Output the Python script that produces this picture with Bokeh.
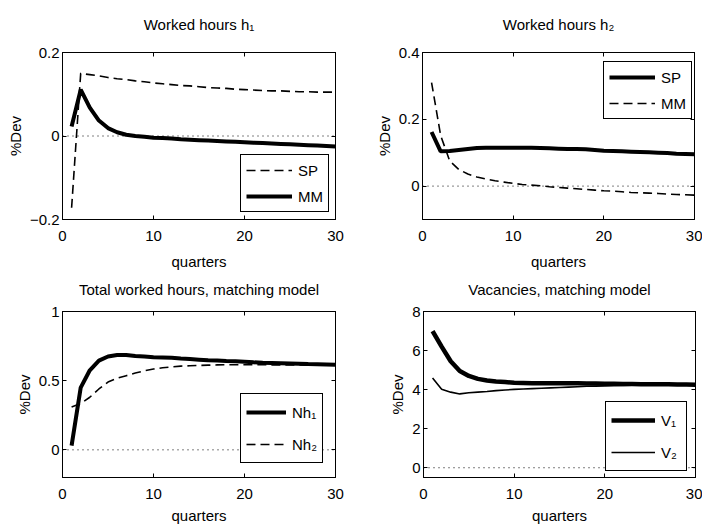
from bokeh.plotting import figure
from bokeh.layouts import column, row
from bokeh.models import Range1d, FixedTicker, LinearAxis, Span, Legend, LegendItem
from bokeh.embed import file_html
from bokeh.resources import INLINE

FONT = "Liberation Sans"
FS = "15px"

quarters = list(range(1, 31))

# Panel 1: Worked hours h1
h1_sp = [-0.172, 0.150, 0.147, 0.144, 0.140, 0.137, 0.135, 0.132, 0.130, 0.127,
         0.125, 0.123, 0.121, 0.120, 0.118, 0.116, 0.115, 0.114, 0.112, 0.111,
         0.110, 0.109, 0.108, 0.108, 0.107, 0.106, 0.106, 0.105, 0.105, 0.105]
h1_mm = [0.023, 0.111, 0.068, 0.037, 0.019, 0.009, 0.003, 0.000, -0.002, -0.004,
         -0.005, -0.006, -0.008, -0.009, -0.010, -0.011, -0.012, -0.013, -0.014, -0.015,
         -0.016, -0.017, -0.018, -0.019, -0.020, -0.021, -0.022, -0.023, -0.024, -0.025]

# Panel 2: Worked hours h2
h2_sp = [0.162, 0.104, 0.105, 0.108, 0.111, 0.114, 0.115, 0.115, 0.115, 0.115,
         0.115, 0.115, 0.114, 0.113, 0.112, 0.111, 0.111, 0.110, 0.108, 0.106,
         0.105, 0.104, 0.103, 0.102, 0.101, 0.100, 0.099, 0.097, 0.096, 0.095]
h2_mm = [0.310, 0.152, 0.075, 0.050, 0.036, 0.027, 0.021, 0.016, 0.012, 0.008,
         0.005, 0.003, 0.001, -0.002, -0.004, -0.006, -0.008, -0.010, -0.012, -0.014,
         -0.015, -0.017, -0.019, -0.020, -0.021, -0.022, -0.024, -0.025, -0.026, -0.027]

# Panel 3: Total worked hours, matching model
nh1 = [0.03, 0.45, 0.575, 0.645, 0.675, 0.685, 0.685, 0.678, 0.675, 0.670,
       0.668, 0.665, 0.660, 0.656, 0.652, 0.648, 0.645, 0.642, 0.640, 0.637,
       0.633, 0.630, 0.628, 0.626, 0.624, 0.622, 0.620, 0.619, 0.617, 0.615]
nh2 = [0.31, 0.335, 0.38, 0.44, 0.49, 0.517, 0.536, 0.555, 0.571, 0.584,
       0.593, 0.600, 0.605, 0.608, 0.610, 0.612, 0.614, 0.615, 0.615, 0.615,
       0.615, 0.615, 0.614, 0.614, 0.613, 0.613, 0.612, 0.612, 0.611, 0.611]

# Panel 4: Vacancies, matching model
v1 = [7.0, 6.2, 5.45, 4.95, 4.7, 4.55, 4.47, 4.42, 4.39, 4.35,
      4.34, 4.33, 4.33, 4.33, 4.33, 4.32, 4.32, 4.31, 4.31, 4.30,
      4.30, 4.29, 4.29, 4.28, 4.28, 4.27, 4.27, 4.26, 4.26, 4.25]
v2 = [4.6, 4.02, 3.87, 3.78, 3.84, 3.87, 3.90, 3.95, 3.98, 4.01,
      4.03, 4.05, 4.07, 4.09, 4.11, 4.13, 4.15, 4.17, 4.18, 4.19,
      4.20, 4.21, 4.22, 4.22, 4.23, 4.23, 4.24, 4.24, 4.25, 4.25]

titles = ["Worked hours h\u2081", "Worked hours h\u2082",
          "Total worked hours, matching model", "Vacancies, matching model"]
x_ticks = [0, 10, 20, 30]
x_tick_labels = ["0", "10", "20", "30"]
y_ticks_1 = [-0.2, 0, 0.2]
y_tick_labels_1 = ["\u22120.2", "0", "0.2"]
y_ticks_2 = [0, 0.2, 0.4]
y_tick_labels_2 = ["0", "0.2", "0.4"]
y_ticks_3 = [0, 0.5, 1]
y_tick_labels_3 = ["0", "0.5", "1"]
y_ticks_4 = [0, 2, 4, 6, 8]
y_tick_labels_4 = ["0", "2", "4", "6", "8"]
x_label = "quarters"
y_label = "%Dev"


def style_axis(ax, ticks, labels, show_labels=True):
    ax.ticker = FixedTicker(ticks=ticks)
    ax.major_tick_in = 4
    ax.major_tick_out = 0
    ax.major_tick_line_color = "black"
    ax.minor_tick_line_color = None
    ax.axis_line_color = "black"
    if show_labels:
        ax.major_label_overrides = {t: l for t, l in zip(ticks, labels)}
        ax.major_label_text_font = FONT
        ax.major_label_text_font_size = FS
        ax.major_label_text_color = "black"
    else:
        ax.major_label_text_color = None
        ax.major_label_text_alpha = 0
        ax.major_label_text_font_size = "1px"
        ax.major_label_standoff = 0


def style_label(ax, text, standoff):
    ax.axis_label = text
    ax.axis_label_text_font = FONT
    ax.axis_label_text_font_size = FS
    ax.axis_label_text_font_style = "normal"
    ax.axis_label_text_color = "black"
    ax.axis_label_standoff = standoff


def make_fig(width, height, borders, title, title_standoff, yr, yticks, ylabels, xstand, xlstand):
    l, r, t, b = borders
    p = figure(width=width, height=height, output_backend="svg", toolbar_location=None,
               x_range=Range1d(0, 30), y_range=Range1d(*yr),
               min_border_left=l, min_border_right=r, min_border_top=t, min_border_bottom=b)
    p.grid.visible = False
    p.outline_line_color = "black"
    p.outline_line_alpha = 1
    p.outline_line_width = 1
    p.background_fill_color = "white"
    p.border_fill_color = "white"

    xa = p.xaxis[0]
    style_axis(xa, x_ticks, x_tick_labels)
    xa.major_label_standoff = xstand
    style_label(xa, x_label, xlstand)

    ya = p.yaxis[0]
    style_axis(ya, yticks, ylabels)
    ya.major_label_standoff = 3
    style_label(ya, y_label, 3)

    # top axis: inward ticks plus the panel title as its label
    top = LinearAxis()
    style_axis(top, x_ticks, x_tick_labels, show_labels=False)
    style_label(top, title, title_standoff)
    p.add_layout(top, "above")
    right = LinearAxis()
    style_axis(right, yticks, ylabels, show_labels=False)
    p.add_layout(right, "right")

    p.add_layout(Span(location=0, dimension="width", line_color="black",
                      line_dash="1 4", line_width=1))
    return p


def add_legend(p, items, loc, spacing, label_height, glyph_width=46):
    lg = Legend(items=items, location=loc, margin=0, padding=5, spacing=spacing,
                glyph_width=glyph_width, glyph_height=label_height, label_height=label_height,
                label_standoff=6, label_text_font=FONT, label_text_font_size=FS,
                label_text_color="black",
                border_line_color="black", border_line_width=1, border_line_alpha=1,
                background_fill_color="white", background_fill_alpha=1)
    p.add_layout(lg)


TOP_H = 275
BOT_H = 527 - TOP_H

# Panel 1
p1 = make_fig(351, TOP_H, (62, 16, 52, TOP_H - 219), titles[0], 20, (-0.2, 0.2),
              y_ticks_1, y_tick_labels_1, 11, 9)
r1a = p1.line(quarters, h1_sp, line_color="black", line_width=1.6, line_dash="9 5")
r1b = p1.line(quarters, h1_mm, line_color="black", line_width=4)
add_legend(p1, [LegendItem(label="SP", renderers=[r1a]), LegendItem(label="MM", renderers=[r1b])],
           (178, 7), 6, 20)

# Panel 2
p2 = make_fig(351, TOP_H, (71, 8, 52, TOP_H - 219), titles[1], 20, (-0.1, 0.4),
              y_ticks_2, y_tick_labels_2, 11, 9)
r2a = p2.line(quarters, h2_sp, line_color="black", line_width=4)
r2b = p2.line(quarters, h2_mm, line_color="black", line_width=1.6, line_dash="9 5")
add_legend(p2, [LegendItem(label="SP", renderers=[r2a]), LegendItem(label="MM", renderers=[r2b])],
           (181, 100), 6, 20)

# Panel 3
p3 = make_fig(351, BOT_H, (62, 16, 311 - TOP_H, 50), titles[2], 14, (-0.2, 1),
              y_ticks_3, y_tick_labels_3, 11, 5)
r3a = p3.line(quarters, nh1, line_color="black", line_width=4)
r3b = p3.line(quarters, nh2, line_color="black", line_width=1.6, line_dash="9 5")
add_legend(p3, [LegendItem(label="Nh\u2081", renderers=[r3a]), LegendItem(label="Nh\u2082", renderers=[r3b])],
           (178, 14), 6, 26, glyph_width=40)

# Panel 4
p4 = make_fig(351, BOT_H, (72, 7, 311 - TOP_H, 50), titles[3], 14, (-0.5, 8),
              y_ticks_4, y_tick_labels_4, 11, 5)
r4a = p4.line(quarters, v1, line_color="black", line_width=4.5)
r4b = p4.line(quarters, v2, line_color="black", line_width=1.6)
add_legend(p4, [LegendItem(label="V\u2081", renderers=[r4a]), LegendItem(label="V\u2082", renderers=[r4b])],
           (182, 6), 6, 26, glyph_width=44)

layout = column(row(p1, p2), row(p3, p4))
open("out.html", "w").write(file_html(layout, INLINE))
